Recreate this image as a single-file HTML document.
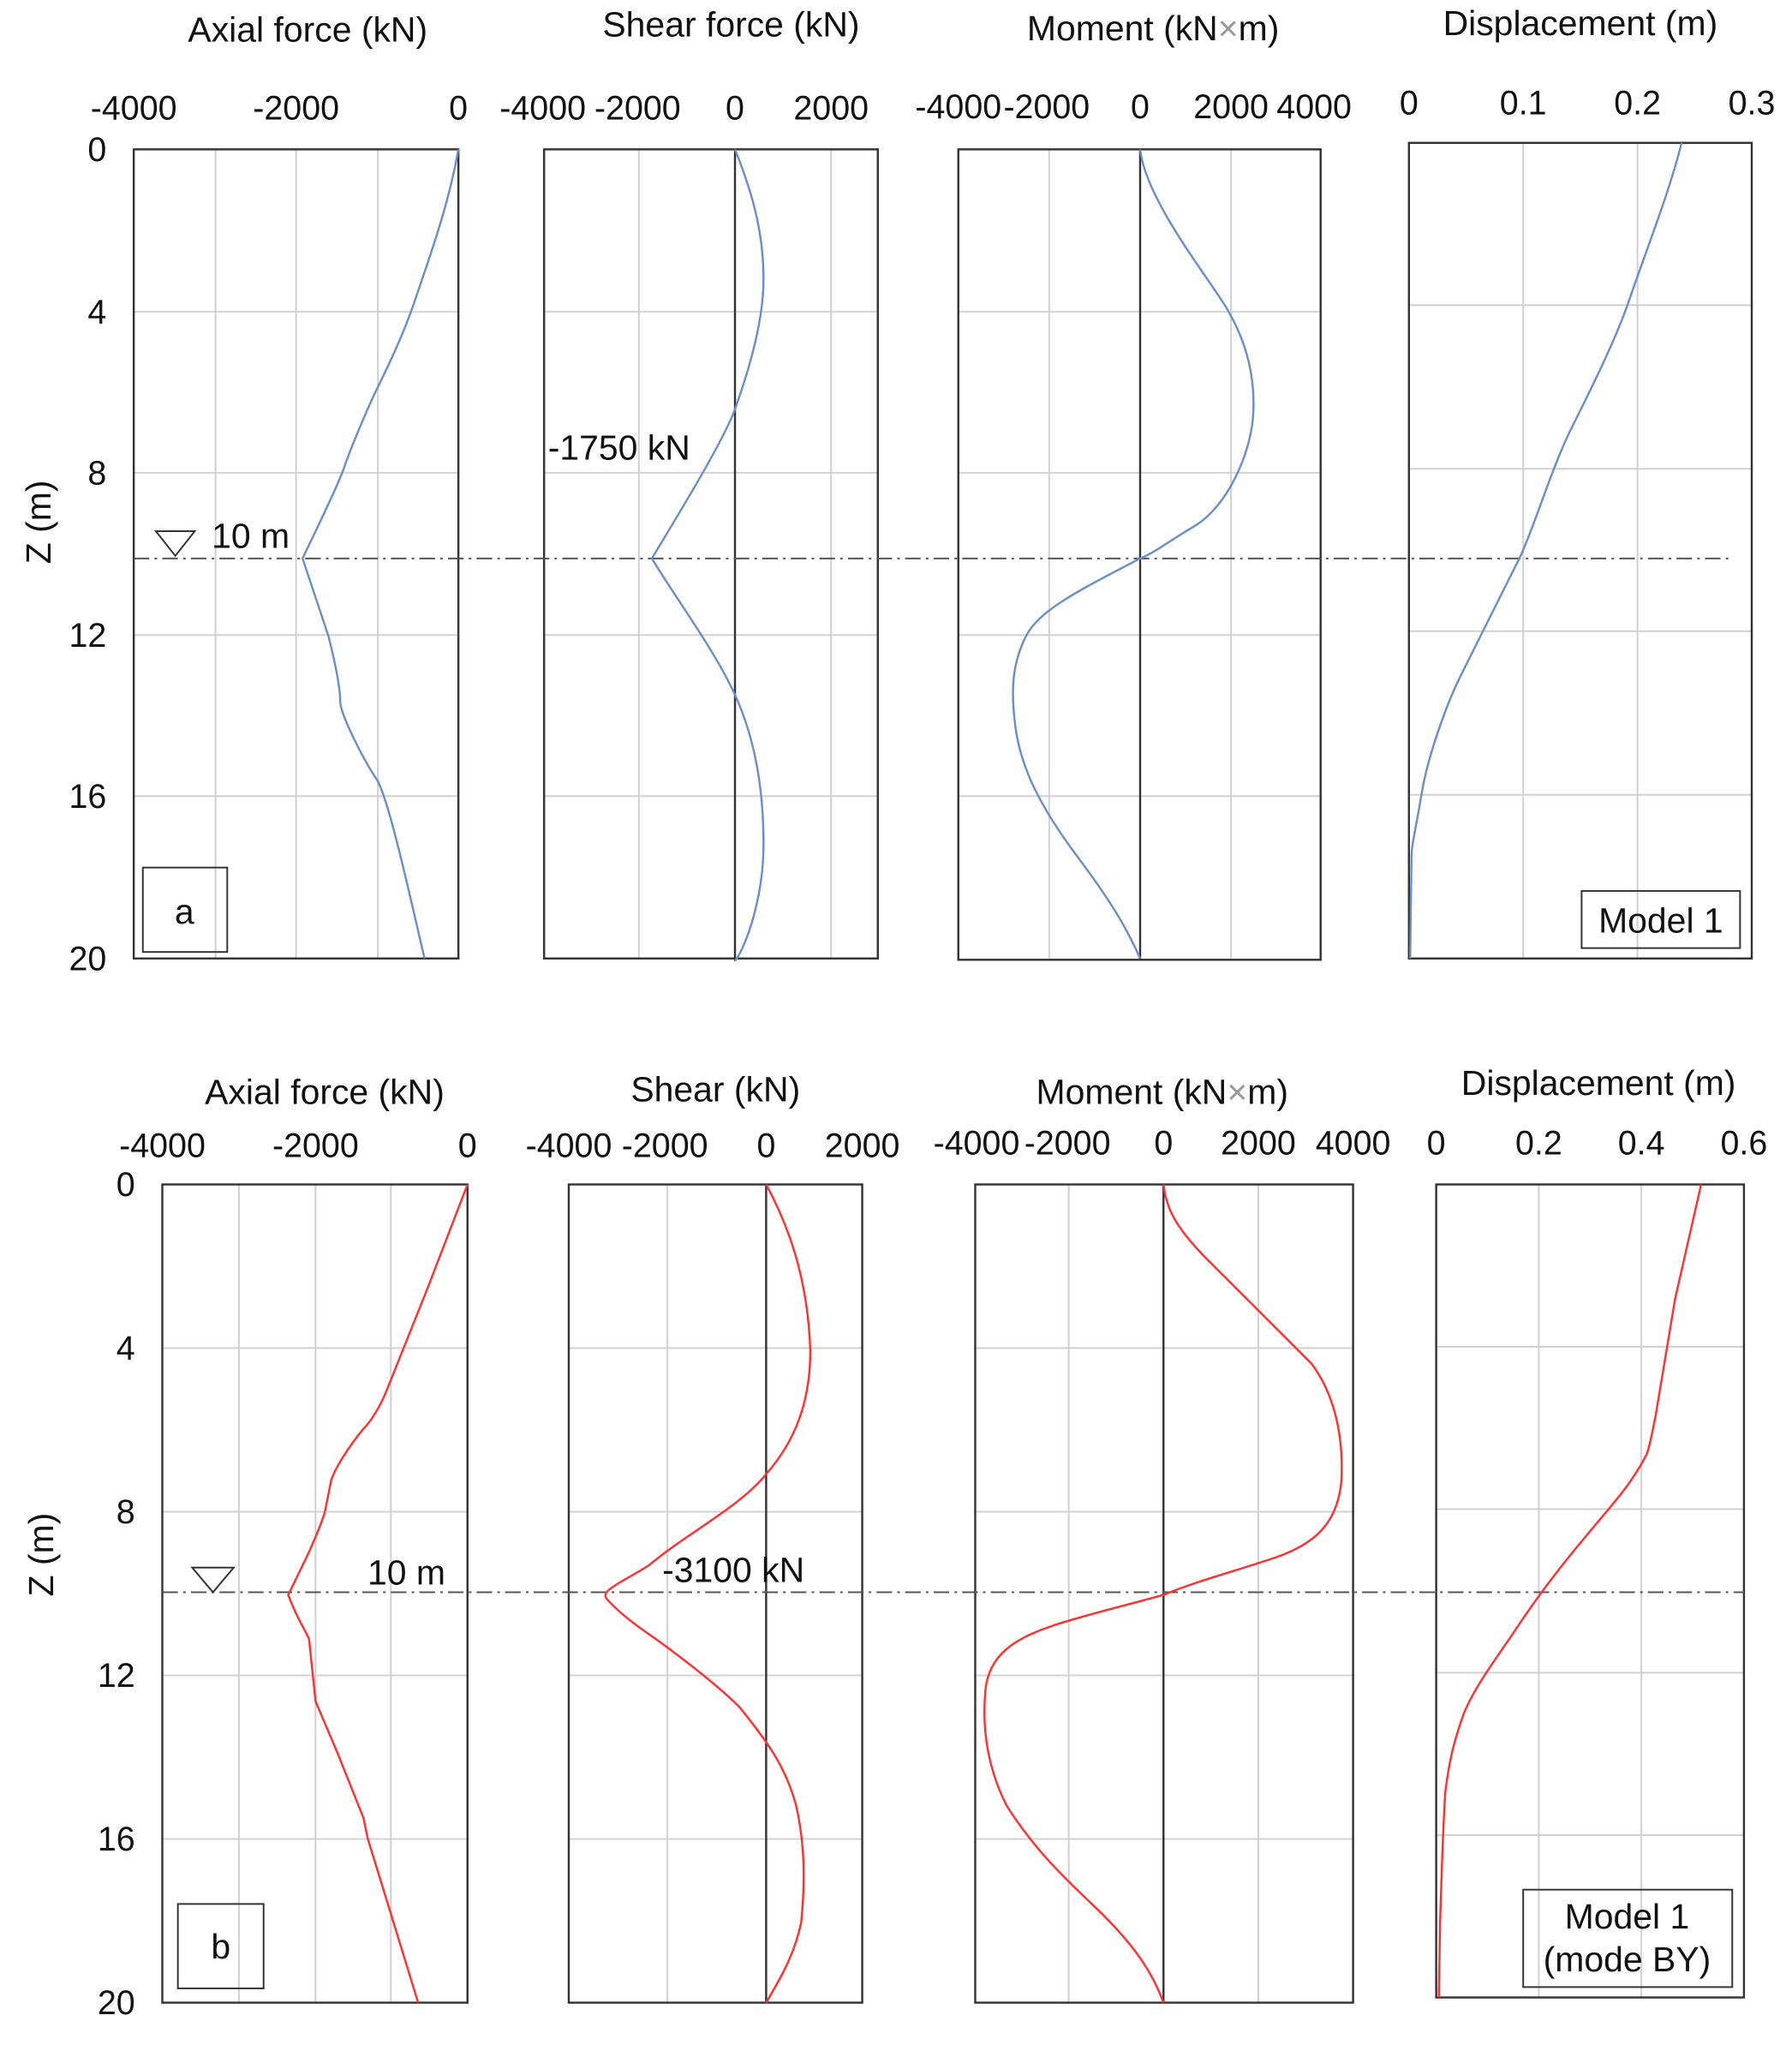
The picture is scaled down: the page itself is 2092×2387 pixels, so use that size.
<!DOCTYPE html>
<html><head><meta charset="utf-8"><style>html,body{margin:0;padding:0;background:#fff}svg{display:block}</style></head>
<body>
<svg xmlns="http://www.w3.org/2000/svg" width="2092" height="2387" viewBox="0 0 1380 1574.6" font-family="Liberation Sans, sans-serif" fill="none">
<g stroke="#d0d0d0" stroke-width="1.3">
<path d="M166 115V738M228 115V738M291 115V738M103 240H353M103 364H353M103 489H353M103 613H353"/>
<path d="M492 115V738M640 115V738M419 240H676M419 364H676M419 489H676M419 613H676"/>
<path d="M808 115V738M948 115V738M738 240H1017M738 364H1017M738 489H1017M738 613H1017"/>
<path d="M1173 110V738M1261 110V738M1085 235H1349M1085 361H1349M1085 486H1349M1085 612H1349"/>
<path d="M184 912V1542M243 912V1542M301 912V1542M125 1038H360M125 1164H360M125 1290H360M125 1416H360"/>
<path d="M514 912V1542M438 1038H664M438 1164H664M438 1290H664M438 1416H664"/>
<path d="M823 912V1542M969 912V1542M751 1038H1042M751 1164H1042M751 1290H1042M751 1416H1042"/>
<path d="M1185 912V1538M1264 912V1538M1106 1037H1343M1106 1162H1343M1106 1288H1343M1106 1413H1343"/>
</g>
<g stroke="#333" stroke-width="1.6">
<rect x="103" y="115" width="250" height="623"/>
<rect x="419" y="115" width="257" height="623"/>
<path d="M566 115V740"/>
<rect x="738" y="115" width="279" height="624"/>
<path d="M878 115V739"/>
<rect x="1085" y="110" width="264" height="628"/>
<rect x="125" y="912" width="235" height="630"/>
<rect x="438" y="912" width="226" height="630"/>
<path d="M590 912V1542"/>
<rect x="751" y="912" width="291" height="630"/>
<path d="M896 912V1542"/>
<rect x="1106" y="912" width="237" height="626"/>
</g>
<g stroke="#555" stroke-width="1.3" stroke-dasharray="12,4,2,4">
<path d="M103 430H1332"/>
<path d="M125 1226H1343"/>
</g>
<g stroke="#6a8fc8" stroke-width="1.6">
<path d="M353 115C345 160 330 200 320 230S295 290 290 300S270 345 265 360S240 415 233 430L253 490C258 510 262 530 262 540S280 585 290 600S320 710 327 738"/>
<path d="M566 115C580 150 588 180 588 215S575 290 566 315S520 400 502 430C520 460 550 500 566 535S588 610 588 650S575 728 566 740"/>
<path d="M878 115C882 150 920 200 940 230S967 290 965 320S945 390 920 405S890 425 878 430C830 455 800 470 790 490S778 530 782 560S800 620 830 660S870 720 878 738"/>
<path d="M1295 110C1285 150 1265 200 1255 230S1225 300 1210 330S1180 410 1170 430S1135 500 1125 520S1100 580 1095 610S1087 650 1087 660S1086 720 1086 738"/>
</g>
<g stroke="#ff3030" stroke-width="1.6">
<path d="M360 912L330 990L298 1070C292 1085 285 1095 280 1100C270 1112 258 1130 255 1140L250 1165C245 1180 240 1190 238 1195L222 1228C228 1245 235 1255 238 1262L243 1310L260 1350L280 1400L283 1415L322 1542"/>
<path d="M590 912C605 940 622 980 624 1040C624 1080 612 1110 590 1135C570 1160 530 1180 500 1205C480 1218 460 1225 468 1232C480 1245 495 1255 505 1262C530 1280 555 1300 570 1315C590 1340 605 1360 613 1390C620 1420 620 1450 617 1480C612 1505 600 1525 590 1542"/>
<path d="M896 912C898 930 905 945 930 970C960 1000 990 1030 1010 1050C1025 1070 1035 1100 1033 1140C1030 1175 1010 1190 980 1200C950 1210 920 1218 896 1228C860 1238 830 1245 810 1252C780 1262 762 1275 759 1300C756 1330 760 1360 775 1390C800 1430 830 1455 850 1475C875 1500 888 1520 896 1542"/>
<path d="M1310 912L1290 1000L1275 1090C1272 1105 1270 1115 1268 1120C1255 1145 1240 1160 1222 1182C1200 1208 1180 1235 1165 1258C1150 1280 1135 1300 1127 1320C1120 1340 1116 1355 1113 1380C1111 1410 1110 1450 1109 1480L1108 1538"/>
</g>
<g fill="#111" font-size="27">
<text x="237" y="32" text-anchor="middle">Axial force (kN)</text>
<text x="563" y="28" text-anchor="middle">Shear force (kN)</text>
<text x="888" y="31" text-anchor="middle">Moment (kN<tspan fill="#999">×</tspan>m)</text>
<text x="1217" y="27" text-anchor="middle">Displacement (m)</text>
<text x="250" y="850" text-anchor="middle">Axial force (kN)</text>
<text x="551" y="848" text-anchor="middle">Shear (kN)</text>
<text x="895" y="850" text-anchor="middle">Moment (kN<tspan fill="#999">×</tspan>m)</text>
<text x="1231" y="843" text-anchor="middle">Displacement (m)</text>
</g>
<g fill="#111" font-size="26" text-anchor="middle">
<text x="103" y="92">-4000</text><text x="228" y="92">-2000</text><text x="353" y="92">0</text>
<text x="418" y="92">-4000</text><text x="491" y="92">-2000</text><text x="566" y="92">0</text><text x="640" y="92">2000</text>
<text x="738" y="91">-4000</text><text x="806" y="91">-2000</text><text x="878" y="91">0</text><text x="948" y="91">2000</text><text x="1012" y="91">4000</text>
<text x="1085" y="88">0</text><text x="1173" y="88">0.1</text><text x="1261" y="88">0.2</text><text x="1349" y="88">0.3</text>
<text x="125" y="891">-4000</text><text x="243" y="891">-2000</text><text x="360" y="891">0</text>
<text x="438" y="891">-4000</text><text x="512" y="891">-2000</text><text x="590" y="891">0</text><text x="664" y="891">2000</text>
<text x="752" y="889">-4000</text><text x="822" y="889">-2000</text><text x="896" y="889">0</text><text x="969" y="889">2000</text><text x="1042" y="889">4000</text>
<text x="1106" y="889">0</text><text x="1185" y="889">0.2</text><text x="1264" y="889">0.4</text><text x="1343" y="889">0.6</text>
</g>
<g fill="#111" font-size="26" text-anchor="end">
<text x="82" y="124">0</text><text x="82" y="249">4</text><text x="82" y="373">8</text><text x="82" y="498">12</text><text x="82" y="622">16</text><text x="82" y="747">20</text>
<text x="104" y="921">0</text><text x="104" y="1047">4</text><text x="104" y="1173">8</text><text x="104" y="1299">12</text><text x="104" y="1425">16</text><text x="104" y="1551">20</text>
</g>
<g fill="#111" font-size="27">
<text transform="translate(39,402) rotate(-90)" text-anchor="middle">Z (m)</text>
<text transform="translate(41,1197) rotate(-90)" text-anchor="middle">Z (m)</text>
<text x="163" y="422">10 m</text>
<text x="422" y="354">-1750 kN</text>
<text x="283" y="1220">10 m</text>
<text x="510" y="1218">-3100 kN</text>
</g>
<g stroke="#333" stroke-width="1.3">
<path d="M120 409H150L135 428Z"/>
<path d="M148 1207H180L164 1226Z"/>
<rect x="110" y="668" width="65" height="65"/>
<rect x="1218" y="686" width="122" height="44"/>
<rect x="137" y="1466" width="66" height="65"/>
<rect x="1173" y="1455" width="161" height="75"/>
</g>
<g fill="#111" font-size="27" text-anchor="middle">
<text x="142" y="711">a</text>
<text x="1279" y="718">Model 1</text>
<text x="170" y="1508">b</text>
<text x="1253" y="1485">Model 1</text>
<text x="1253" y="1518">(mode BY)</text>
</g>
</svg>
</body></html>
